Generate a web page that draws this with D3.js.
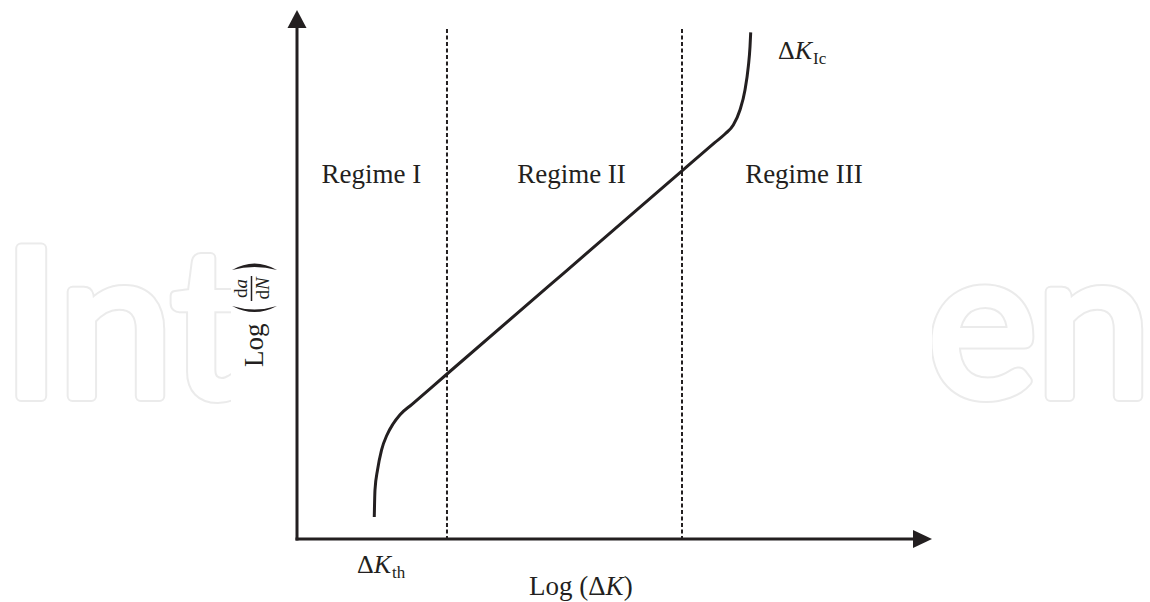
<!DOCTYPE html>
<html><head><meta charset="utf-8">
<script src="https://cdn.jsdelivr.net/npm/d3@7"></script>
<style>html,body{margin:0;padding:0;background:#fff;} svg{display:block;}</style>
</head><body>
<svg id="chart" width="1150" height="602"></svg>
<script>
// ---- data (arbitrary log units) ----
const logDK    = [12.17, 12.28, 12.68, 13.31, 14.17, 15.12, 16.22, 18.11, 23.62, 42.20, 60.63, 65.83, 67.40, 68.71, 69.76, 70.55, 71.07, 71.34, 71.45];
const logDadN  = [ 4.16,  9.26, 13.04, 16.82, 19.66, 21.74, 23.50, 25.46, 31.19, 50.47, 69.57, 74.97, 76.56, 78.26, 81.10, 84.88, 89.28, 93.06, 95.78];
const regimeBounds = [23.62, 60.63];
const regimeTop = 96.4;
const regimeLabels = ["Regime I", "Regime II", "Regime III"];

// ---- layout ----
const W = 1150, H = 602;
const INK = "#231f20";
const serif = "'Liberation Serif','Times New Roman',serif";
const regimeLabelPos = [[11.73, 67.3], [43.23, 67.3], [79.84, 67.3]];

const svg = d3.select("#chart");
svg.append("rect").attr("width", W).attr("height", H).attr("fill", "#fff");

const x = d3.scaleLinear().domain([0, 100]).range([297, 932]);
const y = d3.scaleLinear().domain([0, 100]).range([539, 10]);

// ---- watermark (outlined letters, middle hidden behind the figure) ----
const defs = svg.append("defs");
defs.append("clipPath").attr("id", "wmL").append("rect").attr("x", 0).attr("y", 0).attr("width", 231).attr("height", H);
defs.append("clipPath").attr("id", "wmR").append("rect").attr("x", 932).attr("y", 0).attr("width", W - 932).attr("height", H);
const wmParts = [["Int", 2.5, "wmL"], ["en", 928, "wmR"]];
wmParts.forEach(([txt, xp, clip]) => {
  const g = svg.append("g").attr("clip-path", `url(#${clip})`)
    .attr("font-family", "Lato, sans-serif").attr("font-size", 205).attr("stroke-linejoin", "round");
  g.append("text").attr("x", xp).attr("y", 396).attr("fill", "#ebebeb")
    .attr("stroke", "#ebebeb").attr("stroke-width", 12).text(txt);
  g.append("text").attr("x", xp).attr("y", 396).attr("fill", "#fff")
    .attr("stroke", "#fff").attr("stroke-width", 8).text(txt);
});

// ---- axes (no ticks) ----
const xAxis = d3.axisBottom(x).tickValues([]).tickSizeOuter(0);
const yAxis = d3.axisLeft(y).tickValues([]).tickSizeOuter(0);
svg.append("g").attr("transform", `translate(0,${y(0)})`).call(xAxis)
  .select(".domain").attr("stroke", INK).attr("stroke-width", 3).attr("d", `M${x(0)-1.5},0H${x(100)-10}`);
svg.append("g").attr("transform", `translate(${x(0)},0)`).call(yAxis)
  .select(".domain").attr("stroke", INK).attr("stroke-width", 3).attr("d", `M0,${y(0)+1.5}V${y(100)+10}`);

// arrow heads
svg.append("path").attr("fill", INK)
  .attr("d", `M${x(100)},${y(0)} L${x(100)-19},${y(0)-9} L${x(100)-19},${y(0)+9} Z`);
svg.append("path").attr("fill", INK)
  .attr("d", `M${x(0)},${y(100)} L${x(0)-9.5},${y(100)+18} L${x(0)+9.5},${y(100)+18} Z`);

// ---- regime boundaries ----
svg.selectAll(".bound").data(regimeBounds).enter().append("line")
  .attr("x1", d => x(d)).attr("x2", d => x(d))
  .attr("y1", y(regimeTop)).attr("y2", y(0))
  .attr("stroke", INK).attr("stroke-width", 2).attr("stroke-dasharray", "4,2.5");

// ---- curve ----
const pts = logDK.map((d, i) => [d, logDadN[i]]);
svg.append("path").datum(pts)
  .attr("fill", "none").attr("stroke", INK).attr("stroke-width", 3).attr("stroke-linecap", "butt")
  .attr("d", d3.line().x(d => x(d[0])).y(d => y(d[1])).curve(d3.curveMonotoneX));

// ---- labels ----
svg.selectAll(".reg").data(regimeLabels).enter().append("text")
  .attr("x", (d, i) => x(regimeLabelPos[i][0])).attr("y", (d, i) => y(regimeLabelPos[i][1]))
  .attr("text-anchor", "middle").attr("font-family", serif).attr("font-size", 27).attr("fill", INK)
  .text(d => d);

function deltaK(xp, yp, sub) {
  const t = svg.append("text").attr("x", xp).attr("y", yp).attr("font-family", serif)
    .attr("font-size", 26).attr("fill", INK);
  t.append("tspan").text("Δ");
  t.append("tspan").attr("font-style", "italic").text("K");
  t.append("tspan").attr("font-size", 17).attr("dy", 5).attr("dx", 1).text(sub);
}
deltaK(357, 573, "th");
deltaK(778, 59, "Ic");

// x-axis title
const xt = svg.append("text").attr("x", 529).attr("y", 595).attr("font-family", serif)
  .attr("font-size", 27).attr("fill", INK);
xt.append("tspan").text("Log (Δ");
xt.append("tspan").attr("font-style", "italic").text("K");
xt.append("tspan").text(")");

// y-axis title (rotated)
const yg = svg.append("g").attr("transform", "translate(263,367) rotate(-90)")
  .attr("font-family", serif).attr("fill", INK);
yg.append("text").attr("x", 0).attr("y", 0).attr("font-size", 27).text("Log");
yg.append("path").attr("d", "M61,-31 Q49,-8.5 61,14 Q54,-8.5 61,-31 Z");
yg.append("path").attr("d", "M97,-31 Q110,-8.5 97,14 Q103,-8.5 97,-31 Z");
yg.append("line").attr("x1", 66).attr("x2", 91).attr("y1", -11.5).attr("y2", -11.5)
  .attr("stroke", INK).attr("stroke-width", 1.5);
const num = yg.append("text").attr("x", 78.5).attr("y", -16).attr("text-anchor", "middle").attr("font-size", 19);
num.append("tspan").text("d");
num.append("tspan").attr("font-style", "italic").text("a");
const den = yg.append("text").attr("x", 78.5).attr("y", 6).attr("text-anchor", "middle").attr("font-size", 19);
den.append("tspan").text("d");
den.append("tspan").attr("font-style", "italic").text("N");
</script>
</body></html>
